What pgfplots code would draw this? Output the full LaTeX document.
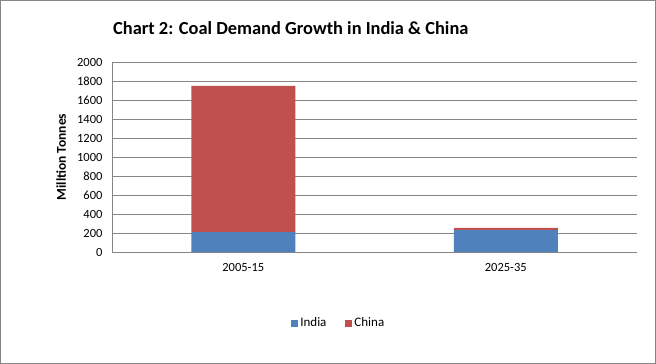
\documentclass[border=0pt]{standalone}
\usepackage{fontspec}
\setmainfont{Carlito}
\usepackage{pgfplots}
\pgfplotsset{compat=1.18}
\definecolor{cIndia}{HTML}{4F81BD}
\definecolor{cChina}{HTML}{C0504D}
\definecolor{cgrid}{HTML}{868686}
\begin{document}
\begin{tikzpicture}[x=1pt,y=1pt]
\draw[cgrid,line width=0.8pt] (0.4,0.4) rectangle (655.6,363.6);
\node[anchor=west,font=\fontsize{18.4}{21}\selectfont\bfseries,inner sep=0pt] at (113,336) {Chart 2: Coal Demand Growth in India \& China};
\begin{axis}[
  at={(112pt,112pt)}, anchor=south west,
  scale only axis, width=525pt, height=190pt,
  ybar stacked, bar width=104pt,
  xmin=-0.5, xmax=1.5, ymin=0, ymax=2000,
  xtick=data, xticklabels={2005-15,2025-35},
  ytick={0,200,...,2000},
  major x tick style={draw=none},
  ymajorgrids, grid style={cgrid,line width=0.8pt},
  axis x line*=bottom, axis y line*=left,
  axis line style={cgrid,line width=0.8pt},
  y axis line style={-},x axis line style={-},
  tick style={cgrid,line width=0.8pt},
  major tick length=5pt, tickpos=left,
  tick label style={font=\fontsize{12.5}{14}\selectfont},
  yticklabel style={xshift=-6pt},
  xticklabel style={yshift=-8pt},
  /pgf/number format/assume math mode=true,
  /pgf/number format/1000 sep={},
  ylabel={Milltion Tonnes},
  ylabel style={font=\fontsize{13.5}{15}\selectfont\bfseries, at={(axis description cs:-0.097,0.5)}, anchor=center},
  legend style={at={(axis description cs:0.432,-0.374)}, anchor=center, draw=none, legend columns=2, font=\fontsize{13}{15}\selectfont, /tikz/every even column/.append style={column sep=17pt}},
  legend image code/.code={\fill[#1,draw=none] (0pt,-3.5pt) rectangle (7pt,3.5pt);},
]
\addplot[fill=cIndia,draw=none] coordinates {(0,210) (1,231)};
\addplot[fill=cChina,draw=none] coordinates {(0,1538) (1,22)};
\legend{India,China}
\end{axis}
\end{tikzpicture}
\end{document}
